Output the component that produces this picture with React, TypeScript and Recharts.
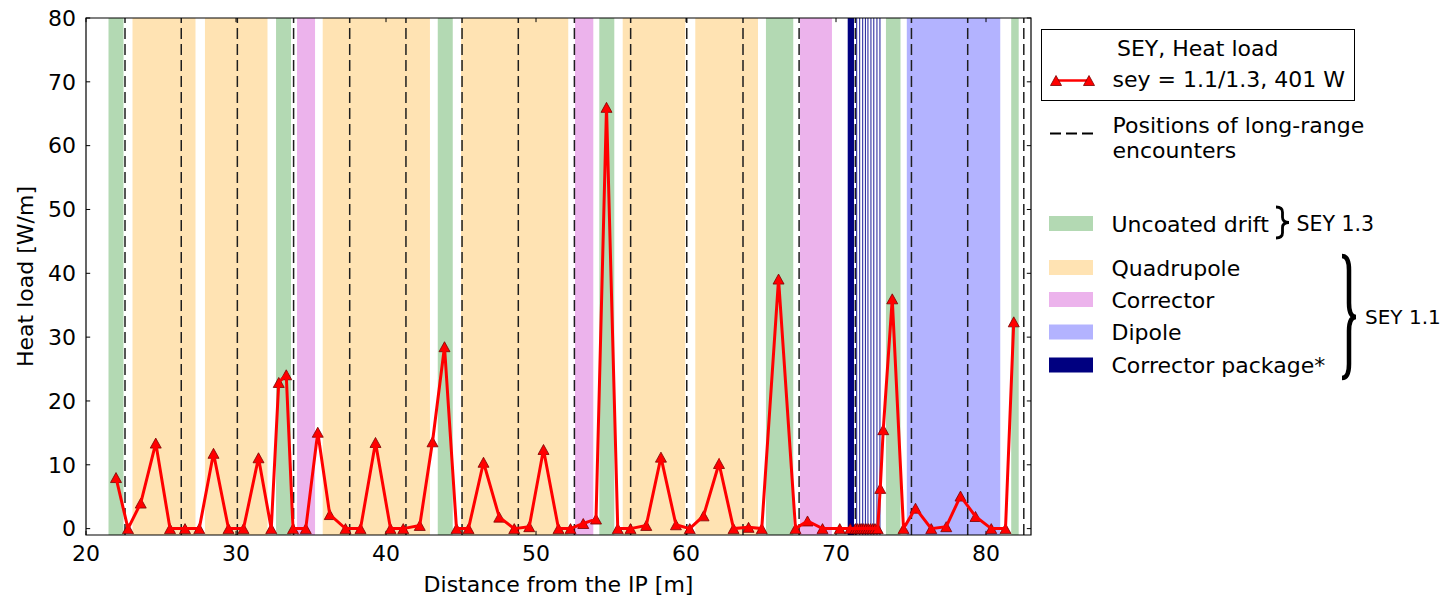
import React from 'react';
import { ComposedChart, XAxis, YAxis, Line, ReferenceArea, ReferenceLine, Label } from 'recharts';

// distance from the IP [m] of each simulated slice
const positions = [
  22.0, 22.8, 23.65, 24.65, 25.6, 26.6, 27.55, 28.5, 29.5, 30.5,
  31.5, 32.35, 32.85, 33.35, 33.8, 34.65, 35.45, 36.25, 37.3, 38.3,
  39.3, 40.3, 41.15, 42.25, 43.1, 43.9, 44.7, 45.5, 46.5, 47.55,
  48.55, 49.55, 50.5, 51.5, 52.3, 53.15, 54.0, 54.7, 55.45, 56.3,
  57.35, 58.33, 59.33, 60.25, 61.17, 62.2, 63.17, 64.17, 65.05, 66.17,
  67.3, 68.1, 69.1, 70.25, 70.95, 71.3, 71.45, 71.6, 71.72, 71.85,
  72.0, 72.15, 72.3, 72.45, 72.6, 72.78, 72.95, 73.15, 73.75, 74.5,
  75.3, 76.35, 77.35, 78.3, 79.3, 80.35, 81.3, 81.85,
];

// heat load [W/m] at each position, sey = 1.1/1.3
const heatLoad = [
  8.0, 0, 4.0, 13.4, 0, 0, 0, 11.8, 0, 0,
  11.1, 0, 22.9, 24.1, 0, 0, 15.1, 2.2, 0, 0,
  13.5, 0, 0, 0.5, 13.6, 28.5, 0, 0, 10.4, 1.8,
  0, 0.3, 12.4, 0, 0, 0.8, 1.5, 66.0, 0, 0,
  0.5, 11.2, 0.6, 0, 2.0, 10.2, 0, 0.2, 0, 39.1,
  0, 1.2, 0, 0, 0, 0, 0, 0, 0, 0,
  0, 0, 0, 0, 0, 0, 6.3, 15.5, 36.0, 0,
  3.2, 0, 0.3, 5.1, 1.9, 0, 0, 32.4,
];

// element extents along the beam line [start, end] in m
const uncoatedDrifts = [
  [21.5, 22.5], [32.67, 33.67], [43.45, 44.45], [54.22, 55.22],
  [65.33, 67.15], [73.33, 74.3], [81.68, 82.18],
];
const quadrupoles = [
  [23.1, 27.3], [27.93, 32.1], [35.78, 42.93], [45.0, 52.15],
  [55.78, 59.95], [60.62, 64.8],
];
const correctors = [[34.07, 35.27], [52.6, 53.82], [67.6, 69.73]];
const dipoles = [[74.72, 80.95]];
const correctorPackage = [[70.78, 71.2]];
const packageSlices = [71.38, 71.58, 71.78, 71.96, 72.13, 72.33, 72.52, 72.73, 72.93];

const longRangeEncounters = [
  22.6, 26.35, 30.09, 33.84, 37.58, 41.33, 45.07, 48.82, 52.56,
  56.31, 60.05, 63.8, 67.54, 71.29, 75.03, 78.78, 82.52,
];

const xTicks = [20, 30, 40, 50, 60, 70, 80];
const yTicks = [0, 10, 20, 30, 40, 50, 60, 70, 80];

const seriesLabel = 'sey = 1.1/1.3, 401 W';
const legendTitle = 'SEY, Heat load';
const encounterLabel = ['Positions of long-range', 'encounters'];
const elementLabels = ['Uncoated drift', 'Quadrupole', 'Corrector', 'Dipole', 'Corrector package*'];

const FONT = '"DejaVu Sans", Verdana, sans-serif';
const COLORS = {
  drift: '#b3d9b3',
  quad: '#ffe3b3',
  corrector: '#ecb3ec',
  dipole: '#b3b3ff',
  pack: '#000080',
};
const elementColors = [COLORS.drift, COLORS.quad, COLORS.corrector, COLORS.dipole, COLORS.pack];

const X_MIN = 20;
const X_MAX = 83;
const Y_MIN = -1;
const Y_MAX = 80;

const data = positions.map((x, i) => ({ x, load: heatLoad[i] }));

const triangle = (cx: number, cy: number, key?: string | number) => (
  <polygon
    key={key}
    points={`${cx},${cy - 5} ${cx - 5.5},${cy + 5} ${cx + 5.5},${cy + 5}`}
    fill="#ff0000"
    stroke="#7a0000"
    strokeWidth={0.8}
  />
);

const renderDot = (props: any) => {
  const { cx, cy, index } = props;
  if (cx == null || cy == null) return <g key={`d-${index}`} />;
  return triangle(cx, cy, `d-${index}`);
};

// right-facing curly brace from y1 to y2
const bracePath = (x: number, y1: number, y2: number, w: number) => {
  const ym = (y1 + y2) / 2;
  const xm = x + w / 2;
  const r = Math.min(w, (y2 - y1) / 6);
  return `M ${x} ${y1} Q ${xm} ${y1} ${xm} ${y1 + r} L ${xm} ${ym - r} Q ${xm} ${ym} ${x + w} ${ym} ` +
    `Q ${xm} ${ym} ${xm} ${ym + r} L ${xm} ${y2 - r} Q ${xm} ${y2} ${x} ${y2}`;
};

const LegendPanel = () => {
  const rowY = [231.5, 275.5, 307.5, 340, 373];
  return (
    <svg
      width={1450}
      height={602}
      style={{ position: 'absolute', left: 0, top: 0, pointerEvents: 'none' }}
      fontFamily={FONT}
      fontSize={22}
    >
      <rect x={1041.5} y={29.5} width={313} height={71} fill="#fff" stroke="#000" strokeWidth={1} />
      <text x={1117} y={55.5} fill="#000">{legendTitle}</text>
      <line x1={1056} y1={80.5} x2={1089} y2={80.5} stroke="#ff0000" strokeWidth={2.5} />
      {triangle(1056, 80.5)}
      {triangle(1089, 80.5)}
      <text x={1112.5} y={86.5} fill="#000">{seriesLabel}</text>

      <line x1={1050} y1={133.5} x2={1094} y2={133.5} stroke="#000" strokeWidth={2.2} strokeDasharray="11 5" />
      <text x={1112.5} y={132.5} fill="#000">{encounterLabel[0]}</text>
      <text x={1112.5} y={158} fill="#000">{encounterLabel[1]}</text>

      {elementLabels.map((label, i) => (
        <g key={label}>
          <rect x={1049} y={rowY[i] - 15.5} width={44} height={15} fill={elementColors[i]} />
          <text x={1111.5} y={rowY[i]} fill="#000">{label}</text>
        </g>
      ))}

      <path d={bracePath(1276, 207, 238, 13)} fill="none" stroke="#000" strokeWidth={2.8} />
      <text x={1296.5} y={231} fill="#000" fontSize={20.5}>SEY 1.3</text>

      <path d={bracePath(1342, 256, 378, 14)} fill="none" stroke="#000" strokeWidth={4.5} />
      <text x={1365} y={323.5} fill="#000" fontSize={20}>SEY 1.1</text>
    </svg>
  );
};

const YLabel = (props: any) => {
  const vb = props.viewBox || { x: 0, y: 18, width: 86, height: 517 };
  const x = vb.x + 33;
  const y = vb.y + vb.height / 2;
  return (
    <text
      x={x}
      y={y}
      transform={`rotate(-90 ${x} ${y})`}
      textAnchor="middle"
      fill="#000"
      fontSize={22}
      fontFamily={FONT}
    >
      Heat load [W/m]
    </text>
  );
};

const tickStyle = { fontSize: 22, fill: '#000', fontFamily: FONT };

export default function App() {
  return (
    <div style={{ position: 'absolute', left: 0, top: 0, width: 1450, height: 602, background: '#fff' }}>
      <ComposedChart
        width={1450}
        height={602}
        data={data}
        margin={{ top: 18, right: 419, bottom: 0, left: 0 }}
      >
        <XAxis
          dataKey="x"
          type="number"
          domain={[X_MIN, X_MAX]}
          ticks={xTicks}
          interval={0}
          allowDataOverflow
          tickLine={false}
          axisLine={false}
          height={67}
          tickMargin={4}
          tick={tickStyle}
        >
          <Label
            value="Distance from the IP [m]"
            position="insideBottom"
            offset={10}
            style={{ fontSize: 22, fill: '#000', fontFamily: FONT }}
          />
        </XAxis>
        <YAxis
          type="number"
          domain={[Y_MIN, Y_MAX]}
          ticks={yTicks}
          interval={0}
          allowDataOverflow
          tickLine={false}
          axisLine={false}
          width={86}
          tickMargin={4}
          tick={tickStyle}
          label={<YLabel />}
        />

        {uncoatedDrifts.map(([a, b]) => (
          <ReferenceArea key={`g${a}`} x1={a} x2={b} y1={Y_MIN} y2={Y_MAX} fill={COLORS.drift} fillOpacity={1} stroke="none" />
        ))}
        {quadrupoles.map(([a, b]) => (
          <ReferenceArea key={`q${a}`} x1={a} x2={b} y1={Y_MIN} y2={Y_MAX} fill={COLORS.quad} fillOpacity={1} stroke="none" />
        ))}
        {correctors.map(([a, b]) => (
          <ReferenceArea key={`c${a}`} x1={a} x2={b} y1={Y_MIN} y2={Y_MAX} fill={COLORS.corrector} fillOpacity={1} stroke="none" />
        ))}
        {dipoles.map(([a, b]) => (
          <ReferenceArea key={`d${a}`} x1={a} x2={b} y1={Y_MIN} y2={Y_MAX} fill={COLORS.dipole} fillOpacity={1} stroke="none" />
        ))}
        {correctorPackage.map(([a, b]) => (
          <ReferenceArea key={`p${a}`} x1={a} x2={b} y1={Y_MIN} y2={Y_MAX} fill={COLORS.pack} fillOpacity={1} stroke="none" />
        ))}
        {packageSlices.map((s) => (
          <ReferenceLine key={`s${s}`} x={s} stroke="#1a1a99" strokeWidth={1} />
        ))}

        {longRangeEncounters.map((e) => (
          <ReferenceLine key={`lr${e}`} x={e} stroke="#1e1e1e" strokeWidth={1.5} strokeDasharray="11 5" />
        ))}

        {/* inward ticks on all four sides */}
        {xTicks.map((t) => (
          <ReferenceLine key={`xb${t}`} segment={[{ x: t, y: Y_MIN }, { x: t, y: Y_MIN + 0.65 }]} stroke="#000" />
        ))}
        {xTicks.map((t) => (
          <ReferenceLine key={`xt${t}`} segment={[{ x: t, y: Y_MAX }, { x: t, y: Y_MAX - 0.65 }]} stroke="#000" />
        ))}
        {yTicks.map((t) => (
          <ReferenceLine key={`yl${t}`} segment={[{ x: X_MIN, y: t }, { x: X_MIN + 0.28, y: t }]} stroke="#000" />
        ))}
        {yTicks.map((t) => (
          <ReferenceLine key={`yr${t}`} segment={[{ x: X_MAX, y: t }, { x: X_MAX - 0.28, y: t }]} stroke="#000" />
        ))}

        <Line
          dataKey="load"
          type="linear"
          stroke="#ff0000"
          strokeWidth={3}
          dot={renderDot}
          activeDot={false}
          isAnimationActive={false}
          zIndex={600}
        />

        <ReferenceArea x1={X_MIN} x2={X_MAX} y1={Y_MIN} y2={Y_MAX} fill="none" stroke="#000" strokeWidth={1.2} zIndex={700} />
      </ComposedChart>
      <LegendPanel />
    </div>
  );
}
